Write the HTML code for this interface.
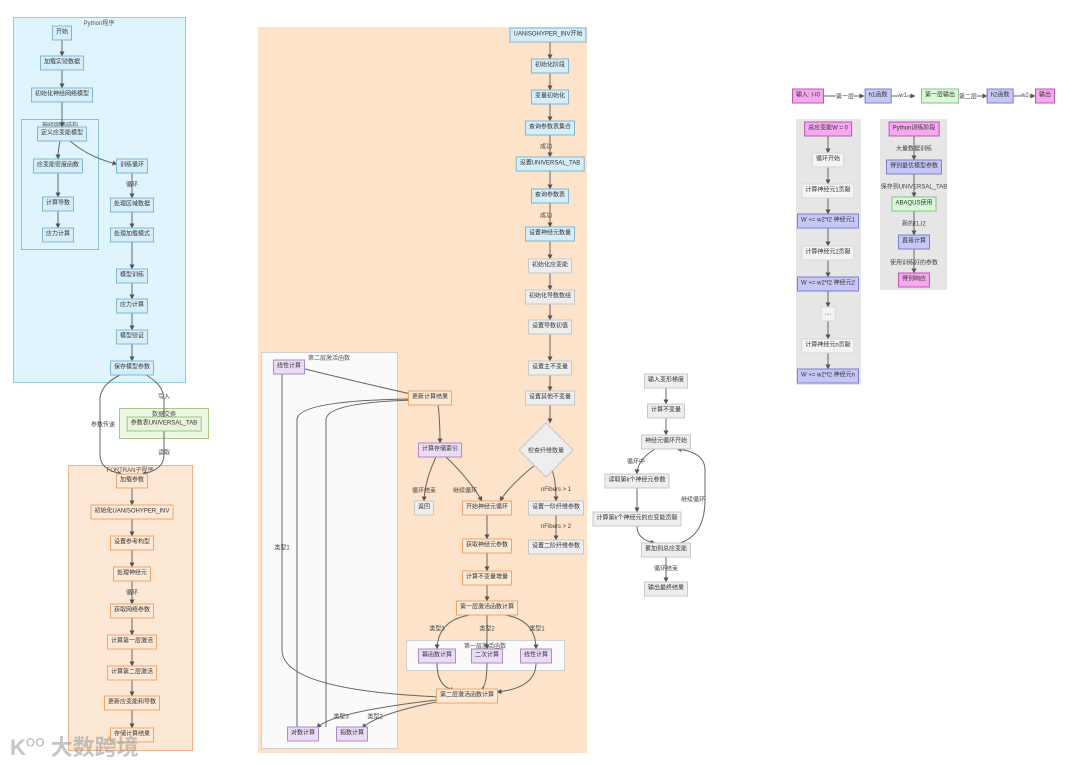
<!DOCTYPE html>
<html><head><meta charset="utf-8"><style>
html,body{margin:0;padding:0;background:#fff;}
body{width:1080px;height:765px;position:relative;overflow:hidden;font-family:"Liberation Sans","Noto Sans CJK SC",sans-serif;color:#333;}
.c{position:absolute;box-sizing:border-box;}
.t{position:absolute;font-size:6px;color:#555;transform:translateX(-50%);white-space:nowrap;}
.n{position:absolute;transform:translate(-50%,-50%);font-size:6px;line-height:9px;padding:2px 3px;border:1px solid;white-space:nowrap;z-index:2;}
.b{background:#d6eef9;border-color:#7fb8d3;}
.o{background:#fde9d6;border-color:#eea56e;}
.p{background:#eadcf4;border-color:#b089cc;}
.g{background:#eeeeee;border-color:#c8c8c8;}
.w{background:#f4f4f4;border-color:#d8d8d8;}
.k{background:#f7a8ef;border-color:#b65bb0;}
.v{background:#c7c7f7;border-color:#7f7fc4;}
.gr{background:#d8f8d8;border-color:#8bbf8b;}
.gn{background:#e7f4dc;border-color:#9cc486;}
.l{position:absolute;transform:translate(-50%,-50%);font-size:6px;color:#444;white-space:nowrap;z-index:2;background:transparent;}
svg{position:absolute;left:0;top:0;z-index:1;}
</style></head><body>
<div class="c" style="left:13px;top:17px;width:173px;height:366px;background:#e0f4fd;border:1px solid #94cbe0;"></div>
<div class="t" style="left:99px;top:18px;">Python程序</div>
<div class="c" style="left:21px;top:119px;width:78px;height:131px;border:1px solid #8dbcd6;"></div>
<div class="t" style="left:60px;top:120px;">神经网络结构</div>
<div class="c" style="left:119px;top:408px;width:90px;height:31px;background:#eef7e6;border:1px solid #a8c88a;"></div>
<div class="t" style="left:164px;top:409px;">数据交换</div>
<div class="c" style="left:68px;top:465px;width:125px;height:286px;background:#fde8d6;border:1px solid #f2b088;"></div>
<div class="t" style="left:130px;top:465px;">FORTRAN子程序</div>
<div class="c" style="left:258px;top:27px;width:329px;height:726px;background:#fde3c9;"></div>
<div class="c" style="left:261px;top:352px;width:137px;height:397px;background:#fafafa;border:1px solid #d0d0d0;"></div>
<div class="t" style="left:329px;top:353px;">第二层激活函数</div>
<div class="c" style="left:406px;top:640px;width:159px;height:31px;background:#fafafa;border:1px solid #d0d0d0;"></div>
<div class="t" style="left:485px;top:641px;">第一层激活函数</div>
<div class="c" style="left:796px;top:119px;width:65px;height:266px;background:#e6e6e6;"></div>
<div class="c" style="left:880px;top:119px;width:67px;height:171px;background:#e6e6e6;"></div>

<svg width="1080" height="765" viewBox="0 0 1080 765">
<defs><marker id="a" viewBox="0 0 10 10" refX="9" refY="5" markerWidth="5" markerHeight="5" orient="auto"><path d="M0,0L10,5L0,10z" fill="#555"/></marker></defs>
<g fill="none" stroke="#666" stroke-width="1" marker-end="url(#a)">
<path d="M62,40V56"/><path d="M62,70V88"/><path d="M62,102V127"/>
<path d="M60,141Q58,150 58,159"/><path d="M70,141Q90,158 117,164"/>
<path d="M58,173V197"/><path d="M58,211V228"/>
<path d="M132,173V198"/><path d="M132,212V228"/><path d="M132,242V269"/><path d="M132,283V299"/><path d="M132,313V330"/><path d="M132,344V361"/>
<path d="M120,375Q100,385 100,400V455Q100,470 122,474"/>
<path d="M146,375Q164,385 164,400V455Q164,470 142,474"/>
<path d="M132,488V505"/><path d="M132,519V536"/><path d="M132,550V567"/><path d="M132,581V604"/><path d="M132,618V635"/><path d="M132,649V666"/><path d="M132,680V696"/><path d="M132,710V728"/>
<path d="M550,42V59"/><path d="M550,73V90"/><path d="M550,104V121"/><path d="M550,135V157"/><path d="M550,171V189"/><path d="M550,203V227"/><path d="M550,241V259"/><path d="M550,273V290"/><path d="M550,304V320"/><path d="M550,334V361"/><path d="M550,375V391"/><path d="M550,405V423"/>
<path d="M552,470Q556,480 556,501"/><path d="M556,515V540"/>
<path d="M535,465Q510,485 500,501"/>
<path d="M305,369Q370,385 420,396"/>
<path d="M438,405Q440,420 440,443"/>
<path d="M436,457Q425,480 424,501"/><path d="M446,457Q470,480 482,501"/>
<path d="M487,515V539"/><path d="M487,553V571"/><path d="M487,585V601"/>
<path d="M470,615Q438,620 437,649"/><path d="M487,615V649"/><path d="M505,615Q536,620 536,649"/>
<path d="M437,663Q437,688 455,690"/><path d="M487,663Q487,688 480,690"/><path d="M536,663Q536,688 497,692"/>
<path d="M440,697Q282,690 282,650V360"/>
<path d="M445,699Q330,712 317,728"/><path d="M447,700Q380,712 362,728"/>
<path d="M297,727V420Q297,400 415,399"/><path d="M326,727V420Q326,402 417,400"/>
<path d="M666,388V404"/><path d="M666,418V435"/>
<path d="M655,449Q637,460 637,474"/><path d="M637,488V512"/><path d="M637,526Q637,540 655,543"/>
<path d="M680,543Q705,535 705,500V470Q705,452 677,449"/>
<path d="M666,557V582"/>
<path d="M822,96H864"/><path d="M890,96H915"/><path d="M963,96H987"/><path d="M1012,96H1035"/>
<path d="M828,136V153"/><path d="M828,167V184"/><path d="M828,198V214"/><path d="M828,228V246"/><path d="M828,260V277"/><path d="M828,291V307"/><path d="M828,321V339"/><path d="M828,353V369"/>
<path d="M914,136V160"/><path d="M914,174V197"/><path d="M914,211V235"/><path d="M914,249V273"/>
</g>
<polygon points="546,423 573,450 546,477 519,450" fill="#eeeeee" stroke="#c8c8c8"/>
</svg>

<div class="n b" style="left:62px;top:33px;">开始</div>
<div class="n b" style="left:62px;top:63px;">加载实验数据</div>
<div class="n b" style="left:62px;top:95px;">初始化神经网络模型</div>
<div class="n b" style="left:62px;top:134px;">定义应变能模型</div>
<div class="n b" style="left:58px;top:166px;">应变能密度函数</div>
<div class="n b" style="left:58px;top:204px;">计算导数</div>
<div class="n b" style="left:58px;top:235px;">应力计算</div>
<div class="n b" style="left:132px;top:166px;">训练循环</div>
<div class="l" style="left:132px;top:184px;">循环</div>
<div class="n b" style="left:132px;top:205px;">处理区域数据</div>
<div class="n b" style="left:132px;top:235px;">处理加载模式</div>
<div class="n b" style="left:132px;top:276px;">模型训练</div>
<div class="n b" style="left:132px;top:306px;">应力计算</div>
<div class="n b" style="left:132px;top:337px;">模型验证</div>
<div class="n b" style="left:132px;top:368px;">保存模型参数</div>
<div class="l" style="left:164px;top:396px;">写入</div>
<div class="l" style="left:103px;top:424px;">参数传递</div>
<div class="n gn" style="left:164px;top:424px;">参数表UNIVERSAL_TAB</div>
<div class="l" style="left:164px;top:452px;">读取</div>
<div class="n o" style="left:132px;top:481px;">加载参数</div>
<div class="n o" style="left:132px;top:512px;">初始化UANISOHYPER_INV</div>
<div class="n o" style="left:132px;top:543px;">设置参考构型</div>
<div class="n o" style="left:132px;top:574px;">处理神经元</div>
<div class="l" style="left:132px;top:592px;">循环</div>
<div class="n o" style="left:132px;top:611px;">获取网络参数</div>
<div class="n o" style="left:132px;top:642px;">计算第一层激活</div>
<div class="n o" style="left:132px;top:673px;">计算第二层激活</div>
<div class="n o" style="left:132px;top:703px;">更新应变能和导数</div>
<div class="n o" style="left:132px;top:735px;">存储计算结果</div>
<div class="n b" style="left:548px;top:35px;">UANISOHYPER_INV开始</div>
<div class="n b" style="left:550px;top:66px;">初始化阶段</div>
<div class="n b" style="left:550px;top:97px;">变量初始化</div>
<div class="n b" style="left:550px;top:128px;">查询参数表集合</div>
<div class="l" style="left:546px;top:146px;">成功</div>
<div class="n b" style="left:550px;top:164px;">设置UNIVERSAL_TAB</div>
<div class="n b" style="left:550px;top:196px;">查询参数表</div>
<div class="l" style="left:546px;top:215px;">成功</div>
<div class="n b" style="left:550px;top:234px;">设置神经元数量</div>
<div class="n g" style="left:550px;top:266px;">初始化应变能</div>
<div class="n g" style="left:550px;top:297px;">初始化导数数组</div>
<div class="n g" style="left:550px;top:327px;">设置导数初值</div>
<div class="n g" style="left:550px;top:368px;">设置主不变量</div>
<div class="n g" style="left:550px;top:398px;">设置其他不变量</div>
<div class="l" style="left:546px;top:450px;">检查纤维数量</div>
<div class="l" style="left:556px;top:490px;">nFibers &gt; 1</div>
<div class="n g" style="left:556px;top:508px;">设置一阶纤维参数</div>
<div class="l" style="left:556px;top:527px;">nFibers &gt; 2</div>
<div class="n g" style="left:556px;top:547px;">设置二阶纤维参数</div>
<div class="n p" style="left:289px;top:367px;">线性计算</div>
<div class="n o" style="left:430px;top:398px;">更新计算结果</div>
<div class="n p" style="left:440px;top:450px;">计算存储索引</div>
<div class="l" style="left:424px;top:490px;">循环结束</div>
<div class="l" style="left:465px;top:490px;">继续循环</div>
<div class="n g" style="left:424px;top:508px;">返回</div>
<div class="n o" style="left:487px;top:508px;">开始神经元循环</div>
<div class="n o" style="left:487px;top:546px;">获取神经元参数</div>
<div class="n o" style="left:487px;top:578px;">计算不变量增量</div>
<div class="n o" style="left:487px;top:608px;">第一层激活函数计算</div>
<div class="l" style="left:437px;top:628px;">类型3</div>
<div class="l" style="left:487px;top:628px;">类型2</div>
<div class="l" style="left:537px;top:628px;">类型1</div>
<div class="n p" style="left:437px;top:656px;">幂函数计算</div>
<div class="n p" style="left:487px;top:656px;">二次计算</div>
<div class="n p" style="left:536px;top:656px;">线性计算</div>
<div class="n o" style="left:467px;top:696px;">第二层激活函数计算</div>
<div class="l" style="left:282px;top:547px;">类型1</div>
<div class="l" style="left:341px;top:716px;">类型3</div>
<div class="l" style="left:375px;top:716px;">类型2</div>
<div class="n p" style="left:303px;top:734px;">对数计算</div>
<div class="n p" style="left:352px;top:734px;">指数计算</div>
<div class="n g" style="left:666px;top:381px;">输入变形梯度</div>
<div class="n g" style="left:666px;top:411px;">计算不变量</div>
<div class="n g" style="left:666px;top:442px;">神经元循环开始</div>
<div class="l" style="left:636px;top:461px;">循环中</div>
<div class="n g" style="left:637px;top:481px;">读取第k个神经元参数</div>
<div class="n g" style="left:637px;top:519px;">计算第k个神经元的应变能贡献</div>
<div class="l" style="left:693px;top:499px;">继续循环</div>
<div class="n g" style="left:666px;top:550px;">累加到总应变能</div>
<div class="l" style="left:666px;top:568px;">循环结束</div>
<div class="n g" style="left:666px;top:589px;">输出最终结果</div>
<div class="n k" style="left:808px;top:96px;">输入: I-I0</div>
<div class="l" style="left:845px;top:96px;background:#fff;">第一层</div>
<div class="n v" style="left:878px;top:96px;">h1函数</div>
<div class="l" style="left:903px;top:96px;background:#fff;">w1</div>
<div class="n gr" style="left:940px;top:96px;">第一层输出</div>
<div class="l" style="left:968px;top:96px;background:#fff;">第二层</div>
<div class="n v" style="left:1000px;top:96px;">h2函数</div>
<div class="l" style="left:1025px;top:96px;background:#fff;">w2</div>
<div class="n k" style="left:1045px;top:96px;">输出</div>
<div class="n k" style="left:828px;top:129px;">总应变能W = 0</div>
<div class="n w" style="left:828px;top:160px;">循环开始</div>
<div class="n w" style="left:828px;top:191px;">计算神经元1贡献</div>
<div class="n v" style="left:828px;top:221px;">W += w2*f2 神经元1</div>
<div class="n w" style="left:828px;top:253px;">计算神经元2贡献</div>
<div class="n v" style="left:828px;top:284px;">W += w2*f2 神经元2</div>
<div class="n w" style="left:828px;top:314px;">....</div>
<div class="n w" style="left:828px;top:346px;">计算神经元n贡献</div>
<div class="n v" style="left:828px;top:376px;">W += w2*f2 神经元n</div>
<div class="n k" style="left:914px;top:129px;">Python训练阶段</div>
<div class="l" style="left:914px;top:148px;">大量数据训练</div>
<div class="n v" style="left:914px;top:167px;">得到最优模型参数</div>
<div class="l" style="left:914px;top:186px;">保存到UNIVERSAL_TAB</div>
<div class="n gr" style="left:914px;top:204px;">ABAQUS使用</div>
<div class="l" style="left:914px;top:223px;">新的I1,I2</div>
<div class="n v" style="left:914px;top:242px;">直接计算</div>
<div class="l" style="left:914px;top:262px;">使用训练好的参数</div>
<div class="n k" style="left:914px;top:280px;">得到响应</div>
<div style="position:absolute;left:10px;top:730px;font-size:22px;font-weight:bold;color:rgba(150,150,150,0.55);z-index:3;font-family:'Liberation Sans','Noto Sans CJK SC',sans-serif;">K<sup style="font-size:12px;">OO</sup> 大数跨境</div>
</body></html>
